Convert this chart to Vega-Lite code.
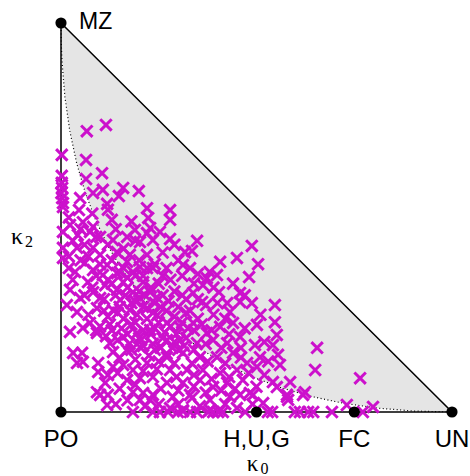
{
  "$schema": "https://vega.github.io/schema/vega-lite/v6.json",
  "width": 391,
  "height": 389,
  "autosize": "none",
  "padding": {"left": 61, "top": 23, "right": 18, "bottom": 64},
  "background": "white",
  "config": {"view": {"stroke": null}},
  "datasets": {
    "curve": [
      {"k0": 0, "k2": 1, "top": 1},
      {"k0": 0.000625, "k2": 0.950625, "top": 0.999375},
      {"k0": 0.0025, "k2": 0.9025, "top": 0.9975},
      {"k0": 0.01, "k2": 0.81, "top": 0.99},
      {"k0": 0.0225, "k2": 0.7225, "top": 0.9775},
      {"k0": 0.04, "k2": 0.64, "top": 0.96},
      {"k0": 0.0625, "k2": 0.5625, "top": 0.9375},
      {"k0": 0.09, "k2": 0.49, "top": 0.91},
      {"k0": 0.1225, "k2": 0.4225, "top": 0.8775},
      {"k0": 0.16, "k2": 0.36, "top": 0.84},
      {"k0": 0.2025, "k2": 0.3025, "top": 0.7975},
      {"k0": 0.25, "k2": 0.25, "top": 0.75},
      {"k0": 0.3025, "k2": 0.2025, "top": 0.6975},
      {"k0": 0.36, "k2": 0.16, "top": 0.64},
      {"k0": 0.4225, "k2": 0.1225, "top": 0.5775},
      {"k0": 0.49, "k2": 0.09, "top": 0.51},
      {"k0": 0.5625, "k2": 0.0625, "top": 0.4375},
      {"k0": 0.64, "k2": 0.04, "top": 0.36},
      {"k0": 0.7225, "k2": 0.0225, "top": 0.2775},
      {"k0": 0.81, "k2": 0.01, "top": 0.19},
      {"k0": 0.9025, "k2": 0.0025, "top": 0.0975},
      {"k0": 1, "k2": 0, "top": 0}
    ],
    "triangle": [
      {"k0": 0, "k2": 1, "o": 1},
      {"k0": 0, "k2": 0, "o": 2},
      {"k0": 1, "k2": 0, "o": 3},
      {"k0": 0, "k2": 1, "o": 4}
    ],
    "vertices": [
      {"k0": 0, "k2": 1, "label": "MZ"},
      {"k0": 0, "k2": 0, "label": "PO"},
      {"k0": 0.5, "k2": 0, "label": "H,U,G"},
      {"k0": 0.75, "k2": 0, "label": "FC"},
      {"k0": 1, "k2": 0, "label": "UN"}
    ],
    "pairs": [
      {"k0":0.115,"k2":0.738},{"k0":0.066,"k2":0.722},{"k0":0.002,"k2":0.661},{"k0":0.064,"k2":0.648},
      {"k0":0.105,"k2":0.614},{"k0":0.064,"k2":0.599},{"k0":0.002,"k2":0.607},{"k0":0.002,"k2":0.589},
      {"k0":0.003,"k2":0.576},{"k0":0.001,"k2":0.563},{"k0":0.003,"k2":0.55},{"k0":0.005,"k2":0.537},
      {"k0":0.159,"k2":0.576},{"k0":0.107,"k2":0.571},{"k0":0.082,"k2":0.563},{"k0":0.199,"k2":0.568},
      {"k0":0.148,"k2":0.555},{"k0":0.049,"k2":0.55},{"k0":0.118,"k2":0.535},{"k0":0.22,"k2":0.524},
      {"k0":0.046,"k2":0.519},{"k0":0.279,"k2":0.519},{"k0":0.005,"k2":0.527},{"k0":0.279,"k2":0.445},
      {"k0":0.348,"k2":0.44},{"k0":0.488,"k2":0.427},{"k0":0.317,"k2":0.411},{"k0":0.335,"k2":0.414},
      {"k0":0.407,"k2":0.386},{"k0":0.45,"k2":0.396},{"k0":0.504,"k2":0.38},{"k0":0.312,"k2":0.378},
      {"k0":0.35,"k2":0.355},{"k0":0.399,"k2":0.352},{"k0":0.481,"k2":0.347},{"k0":0.373,"k2":0.344},
      {"k0":0.363,"k2":0.326},{"k0":0.404,"k2":0.308},{"k0":0.458,"k2":0.306},{"k0":0.338,"k2":0.306},
      {"k0":0.425,"k2":0.28},{"k0":0.488,"k2":0.28},{"k0":0.371,"k2":0.275},{"k0":0.458,"k2":0.283},
      {"k0":0.361,"k2":0.283},{"k0":0.432,"k2":0.257},{"k0":0.279,"k2":0.494},{"k0":0.253,"k2":0.463},
      {"k0":0.023,"k2":0.481},{"k0":0.056,"k2":0.488},{"k0":0.082,"k2":0.476},{"k0":0.13,"k2":0.494},
      {"k0":0.223,"k2":0.499},{"k0":0.005,"k2":0.463},{"k0":0.043,"k2":0.455},{"k0":0.074,"k2":0.463},
      {"k0":0.189,"k2":0.468},{"k0":0.169,"k2":0.45},{"k0":0.228,"k2":0.473},{"k0":0.005,"k2":0.422},
      {"k0":0.041,"k2":0.422},{"k0":0.082,"k2":0.422},{"k0":0.133,"k2":0.442},{"k0":0.202,"k2":0.437},
      {"k0":0.235,"k2":0.442},{"k0":0.005,"k2":0.396},{"k0":0.061,"k2":0.383},{"k0":0.1,"k2":0.404},
      {"k0":0.143,"k2":0.411},{"k0":0.176,"k2":0.404},{"k0":0.22,"k2":0.404},{"k0":0.036,"k2":0.36},
      {"k0":0.082,"k2":0.365},{"k0":0.118,"k2":0.378},{"k0":0.169,"k2":0.386},{"k0":0.202,"k2":0.373},
      {"k0":0.107,"k2":0.352},{"k0":0.143,"k2":0.357},{"k0":0.184,"k2":0.36},{"k0":0.235,"k2":0.37},
      {"k0":0.069,"k2":0.334},{"k0":0.113,"k2":0.326},{"k0":0.159,"k2":0.334},{"k0":0.21,"k2":0.334},
      {"k0":0.023,"k2":0.314},{"k0":0.082,"k2":0.308},{"k0":0.143,"k2":0.314},{"k0":0.184,"k2":0.308},
      {"k0":0.228,"k2":0.308},{"k0":0.049,"k2":0.293},{"k0":0.1,"k2":0.293},{"k0":0.151,"k2":0.288},
      {"k0":0.202,"k2":0.293},{"k0":0.015,"k2":0.275},{"k0":0.041,"k2":0.257},{"k0":0.092,"k2":0.267},
      {"k0":0.133,"k2":0.262},{"k0":0.176,"k2":0.262},{"k0":0.22,"k2":0.267},{"k0":0.246,"k2":0.249},
      {"k0":0.023,"k2":0.206},{"k0":0.056,"k2":0.216},{"k0":0.092,"k2":0.203},{"k0":0.074,"k2":0.229},
      {"k0":0.125,"k2":0.177},{"k0":0.159,"k2":0.193},{"k0":0.194,"k2":0.203},{"k0":0.228,"k2":0.211},
      {"k0":0.133,"k2":0.154},{"k0":0.169,"k2":0.159},{"k0":0.202,"k2":0.167},{"k0":0.031,"k2":0.152},
      {"k0":0.054,"k2":0.152},{"k0":0.041,"k2":0.126},{"k0":0.056,"k2":0.129},{"k0":0.095,"k2":0.126},
      {"k0":0.133,"k2":0.116},{"k0":0.159,"k2":0.121},{"k0":0.095,"k2":0.103},{"k0":0.184,"k2":0.108},
      {"k0":0.22,"k2":0.126},{"k0":0.113,"k2":0.075},{"k0":0.169,"k2":0.082},{"k0":0.202,"k2":0.087},
      {"k0":0.235,"k2":0.09},{"k0":0.092,"k2":0.051},{"k0":0.12,"k2":0.044},{"k0":0.118,"k2":0.018},
      {"k0":0.184,"k2":0.051},{"k0":0.21,"k2":0.049},{"k0":0.228,"k2":0.031},{"k0":0.184,"k2":0.0},
      {"k0":0.235,"k2":0.0},{"k0":0.202,"k2":0.031},{"k0":0.271,"k2":0.229},{"k0":0.304,"k2":0.219},
      {"k0":0.338,"k2":0.229},{"k0":0.373,"k2":0.203},{"k0":0.407,"k2":0.219},{"k0":0.44,"k2":0.229},
      {"k0":0.501,"k2":0.224},{"k0":0.271,"k2":0.185},{"k0":0.304,"k2":0.185},{"k0":0.348,"k2":0.177},
      {"k0":0.389,"k2":0.185},{"k0":0.425,"k2":0.177},{"k0":0.458,"k2":0.193},{"k0":0.496,"k2":0.172},
      {"k0":0.271,"k2":0.141},{"k0":0.312,"k2":0.152},{"k0":0.355,"k2":0.141},{"k0":0.399,"k2":0.141},
      {"k0":0.44,"k2":0.152},{"k0":0.476,"k2":0.126},{"k0":0.509,"k2":0.141},{"k0":0.279,"k2":0.108},
      {"k0":0.322,"k2":0.108},{"k0":0.363,"k2":0.108},{"k0":0.407,"k2":0.1},{"k0":0.45,"k2":0.108},
      {"k0":0.501,"k2":0.116},{"k0":0.271,"k2":0.075},{"k0":0.312,"k2":0.075},{"k0":0.355,"k2":0.082},
      {"k0":0.389,"k2":0.064},{"k0":0.425,"k2":0.075},{"k0":0.465,"k2":0.082},{"k0":0.286,"k2":0.039},
      {"k0":0.33,"k2":0.044},{"k0":0.381,"k2":0.031},{"k0":0.432,"k2":0.039},{"k0":0.483,"k2":0.049},
      {"k0":0.279,"k2":0.01},{"k0":0.312,"k2":0.005},{"k0":0.381,"k2":0.005},{"k0":0.407,"k2":0.005},
      {"k0":0.348,"k2":0.0},{"k0":0.547,"k2":0.231},{"k0":0.552,"k2":0.198},{"k0":0.542,"k2":0.172},
      {"k0":0.555,"k2":0.147},{"k0":0.56,"k2":0.121},{"k0":0.655,"k2":0.165},{"k0":0.65,"k2":0.108},
      {"k0":0.542,"k2":0.077},{"k0":0.586,"k2":0.077},{"k0":0.552,"k2":0.064},{"k0":0.624,"k2":0.051},
      {"k0":0.578,"k2":0.039},{"k0":0.581,"k2":0.031},{"k0":0.731,"k2":0.018},{"k0":0.765,"k2":0.087},
      {"k0":0.798,"k2":0.013},{"k0":0.54,"k2":0.0},{"k0":0.598,"k2":0.0},{"k0":0.611,"k2":0.0},
      {"k0":0.632,"k2":0.0},{"k0":0.645,"k2":0.0},{"k0":0.693,"k2":0.0},{"k0":0.772,"k2":0.0},
      {"k0":0.253,"k2":0.0},{"k0":0.274,"k2":0.0},{"k0":0.299,"k2":0.0},{"k0":0.312,"k2":0.002},
      {"k0":0.33,"k2":0.0},{"k0":0.376,"k2":0.0},{"k0":0.389,"k2":0.0},{"k0":0.402,"k2":0.0},
      {"k0":0.414,"k2":0.0},{"k0":0.471,"k2":0.0},{"k0":0.529,"k2":0.0},{"k0":0.517,"k2":0.023},
      {"k0":0.335,"k2":0.036},{"k0":0.1,"k2":0.044},{"k0":0.235,"k2":0.044},{"k0":0.458,"k2":0.044},
      {"k0":0.491,"k2":0.044},{"k0":0.578,"k2":0.044},{"k0":0.619,"k2":0.044},{"k0":0.547,"k2":0.275},
      {"k0":0.14,"k2":0.30},{"k0":0.17,"k2":0.32},{"k0":0.20,"k2":0.31},{"k0":0.23,"k2":0.32},
      {"k0":0.26,"k2":0.30},{"k0":0.29,"k2":0.31},{"k0":0.32,"k2":0.29},{"k0":0.15,"k2":0.27},
      {"k0":0.18,"k2":0.28},{"k0":0.21,"k2":0.27},{"k0":0.24,"k2":0.28},{"k0":0.27,"k2":0.26},
      {"k0":0.30,"k2":0.27},{"k0":0.33,"k2":0.26},{"k0":0.16,"k2":0.24},{"k0":0.19,"k2":0.23},
      {"k0":0.22,"k2":0.24},{"k0":0.25,"k2":0.23},{"k0":0.28,"k2":0.22},{"k0":0.31,"k2":0.23},
      {"k0":0.34,"k2":0.21},{"k0":0.17,"k2":0.20},{"k0":0.20,"k2":0.19},{"k0":0.23,"k2":0.20},
      {"k0":0.26,"k2":0.19},{"k0":0.29,"k2":0.18},{"k0":0.32,"k2":0.19},{"k0":0.18,"k2":0.16},
      {"k0":0.21,"k2":0.17},{"k0":0.24,"k2":0.16},{"k0":0.27,"k2":0.15},{"k0":0.30,"k2":0.16},
      {"k0":0.12,"k2":0.34},{"k0":0.15,"k2":0.36},{"k0":0.19,"k2":0.35},{"k0":0.22,"k2":0.37},
      {"k0":0.26,"k2":0.35},{"k0":0.10,"k2":0.22},{"k0":0.13,"k2":0.21},{"k0":0.11,"k2":0.26},
      {"k0":0.08,"k2":0.32},{"k0":0.07,"k2":0.40},{"k0":0.10,"k2":0.45},{"k0":0.14,"k2":0.47},
      {"k0":0.18,"k2":0.49},{"k0":0.12,"k2":0.52},{"k0":0.08,"k2":0.51},
      {"k0":0.12,"k2":0.43},{"k0":0.16,"k2":0.42},{"k0":0.19,"k2":0.44},{"k0":0.26,"k2":0.41},
      {"k0":0.29,"k2":0.43},{"k0":0.22,"k2":0.46},{"k0":0.10,"k2":0.38},{"k0":0.13,"k2":0.39},
      {"k0":0.16,"k2":0.37},{"k0":0.20,"k2":0.39},{"k0":0.24,"k2":0.38},{"k0":0.27,"k2":0.37},
      {"k0":0.30,"k2":0.39},{"k0":0.33,"k2":0.37},{"k0":0.38,"k2":0.36},{"k0":0.09,"k2":0.35},
      {"k0":0.13,"k2":0.33},{"k0":0.17,"k2":0.345},{"k0":0.21,"k2":0.35},{"k0":0.25,"k2":0.33},
      {"k0":0.28,"k2":0.34},{"k0":0.31,"k2":0.35},{"k0":0.34,"k2":0.33},{"k0":0.39,"k2":0.32},
      {"k0":0.44,"k2":0.33},{"k0":0.06,"k2":0.30},{"k0":0.11,"k2":0.29},{"k0":0.165,"k2":0.30},
      {"k0":0.19,"k2":0.285},{"k0":0.215,"k2":0.30},{"k0":0.245,"k2":0.295},{"k0":0.275,"k2":0.285},
      {"k0":0.31,"k2":0.30},{"k0":0.35,"k2":0.29},{"k0":0.40,"k2":0.28},{"k0":0.47,"k2":0.30},
      {"k0":0.07,"k2":0.25},{"k0":0.12,"k2":0.245},{"k0":0.145,"k2":0.255},{"k0":0.195,"k2":0.25},
      {"k0":0.235,"k2":0.255},{"k0":0.255,"k2":0.27},{"k0":0.29,"k2":0.245},{"k0":0.32,"k2":0.255},
      {"k0":0.35,"k2":0.24},{"k0":0.39,"k2":0.25},{"k0":0.42,"k2":0.24},{"k0":0.51,"k2":0.25},
      {"k0":0.09,"k2":0.21},{"k0":0.125,"k2":0.225},{"k0":0.155,"k2":0.215},{"k0":0.18,"k2":0.225},
      {"k0":0.21,"k2":0.21},{"k0":0.24,"k2":0.215},{"k0":0.265,"k2":0.205},{"k0":0.295,"k2":0.20},
      {"k0":0.325,"k2":0.215},{"k0":0.36,"k2":0.225},{"k0":0.385,"k2":0.21},{"k0":0.43,"k2":0.20},
      {"k0":0.47,"k2":0.215},{"k0":0.115,"k2":0.195},{"k0":0.145,"k2":0.185},{"k0":0.175,"k2":0.175},
      {"k0":0.205,"k2":0.185},{"k0":0.235,"k2":0.175},{"k0":0.255,"k2":0.165},{"k0":0.285,"k2":0.165},
      {"k0":0.315,"k2":0.17},{"k0":0.34,"k2":0.16},{"k0":0.37,"k2":0.175},{"k0":0.41,"k2":0.165},
      {"k0":0.46,"k2":0.165},{"k0":0.52,"k2":0.18},{"k0":0.15,"k2":0.14},{"k0":0.19,"k2":0.135},
      {"k0":0.225,"k2":0.145},{"k0":0.25,"k2":0.13},{"k0":0.29,"k2":0.125},{"k0":0.335,"k2":0.125},
      {"k0":0.375,"k2":0.13},{"k0":0.42,"k2":0.125},{"k0":0.46,"k2":0.14},{"k0":0.53,"k2":0.13},
      {"k0":0.12,"k2":0.095},{"k0":0.145,"k2":0.10},{"k0":0.21,"k2":0.105},{"k0":0.245,"k2":0.11},
      {"k0":0.295,"k2":0.09},{"k0":0.34,"k2":0.095},{"k0":0.385,"k2":0.085},{"k0":0.43,"k2":0.09},
      {"k0":0.48,"k2":0.10},{"k0":0.52,"k2":0.095},{"k0":0.15,"k2":0.06},{"k0":0.19,"k2":0.07},
      {"k0":0.255,"k2":0.06},{"k0":0.30,"k2":0.055},{"k0":0.34,"k2":0.065},{"k0":0.37,"k2":0.05},
      {"k0":0.41,"k2":0.055},{"k0":0.445,"k2":0.06},{"k0":0.50,"k2":0.065},{"k0":0.14,"k2":0.02},
      {"k0":0.17,"k2":0.03},{"k0":0.215,"k2":0.015},{"k0":0.25,"k2":0.02},{"k0":0.30,"k2":0.02},
      {"k0":0.355,"k2":0.015},{"k0":0.42,"k2":0.02},{"k0":0.45,"k2":0.01},{"k0":0.49,"k2":0.02},
      {"k0":0.02,"k2":0.50},{"k0":0.03,"k2":0.44},{"k0":0.05,"k2":0.47},{"k0":0.02,"k2":0.40},
      {"k0":0.06,"k2":0.43},{"k0":0.09,"k2":0.45},{"k0":0.03,"k2":0.34},{"k0":0.05,"k2":0.39},
      {"k0":0.02,"k2":0.37}
    ],
    "axisLabels": [
      {"k0": 0.5, "k2": 0, "main": "κ", "sub": "0", "which": "x"},
      {"k0": 0, "k2": 0.5, "main": "κ", "sub": "2", "which": "y"}
    ]
  },
  "encoding": {
    "x": {"field": "k0", "type": "quantitative", "scale": {"domain": [0, 1], "nice": false, "zero": false}, "axis": null},
    "y": {"field": "k2", "type": "quantitative", "scale": {"domain": [0, 1], "nice": false, "zero": false}, "axis": null}
  },
  "layer": [
    {
      "data": {"name": "curve"},
      "mark": {"type": "area", "color": "#e5e5e5", "opacity": 1},
      "encoding": {"y2": {"field": "top"}}
    },
    {
      "data": {"name": "curve"},
      "mark": {"type": "line", "color": "#000000", "strokeWidth": 1.2, "strokeDash": [1, 2.5]},
      "encoding": {"order": {"field": "k0", "type": "quantitative"}}
    },
    {
      "data": {"name": "triangle"},
      "mark": {"type": "line", "color": "#000000", "strokeWidth": 1.5},
      "encoding": {"order": {"field": "o", "type": "quantitative"}}
    },
    {
      "data": {"name": "pairs"},
      "mark": {"type": "point", "shape": "M-1,-1L1,1M-1,1L1,-1", "filled": false, "stroke": "#cc11cc", "strokeWidth": 3, "size": 130, "opacity": 1}
    },
    {
      "data": {"name": "vertices"},
      "mark": {"type": "circle", "color": "#000000", "size": 125, "opacity": 1}
    },
    {
      "data": {"name": "vertices"},
      "transform": [{"filter": "datum.label == 'MZ'"}],
      "mark": {"type": "text", "align": "left", "baseline": "alphabetic", "dx": 18, "dy": 6, "font": "Liberation Sans", "fontSize": 23, "color": "#000000"},
      "encoding": {"text": {"field": "label"}}
    },
    {
      "data": {"name": "vertices"},
      "transform": [{"filter": "datum.label != 'MZ'"}],
      "mark": {"type": "text", "align": "center", "baseline": "alphabetic", "dy": 35, "font": "Liberation Sans", "fontSize": 24, "color": "#000000"},
      "encoding": {"text": {"field": "label"}}
    },
    {
      "data": {"name": "axisLabels"},
      "transform": [{"filter": "datum.which == 'x'"}],
      "mark": {"type": "text", "align": "center", "baseline": "alphabetic", "dx": -4, "dy": 59, "font": "Liberation Serif", "fontSize": 23, "color": "#000000"},
      "encoding": {"text": {"field": "main"}}
    },
    {
      "data": {"name": "axisLabels"},
      "transform": [{"filter": "datum.which == 'x'"}],
      "mark": {"type": "text", "align": "center", "baseline": "alphabetic", "dx": 8, "dy": 62, "font": "Liberation Serif", "fontSize": 16, "color": "#000000"},
      "encoding": {"text": {"field": "sub"}}
    },
    {
      "data": {"name": "axisLabels"},
      "transform": [{"filter": "datum.which == 'y'"}],
      "mark": {"type": "text", "align": "center", "baseline": "alphabetic", "dx": -44, "dy": 26, "font": "Liberation Serif", "fontSize": 24, "color": "#000000"},
      "encoding": {"text": {"field": "main"}}
    },
    {
      "data": {"name": "axisLabels"},
      "transform": [{"filter": "datum.which == 'y'"}],
      "mark": {"type": "text", "align": "center", "baseline": "alphabetic", "dx": -32, "dy": 29, "font": "Liberation Serif", "fontSize": 16, "color": "#000000"},
      "encoding": {"text": {"field": "sub"}}
    }
  ]
}
